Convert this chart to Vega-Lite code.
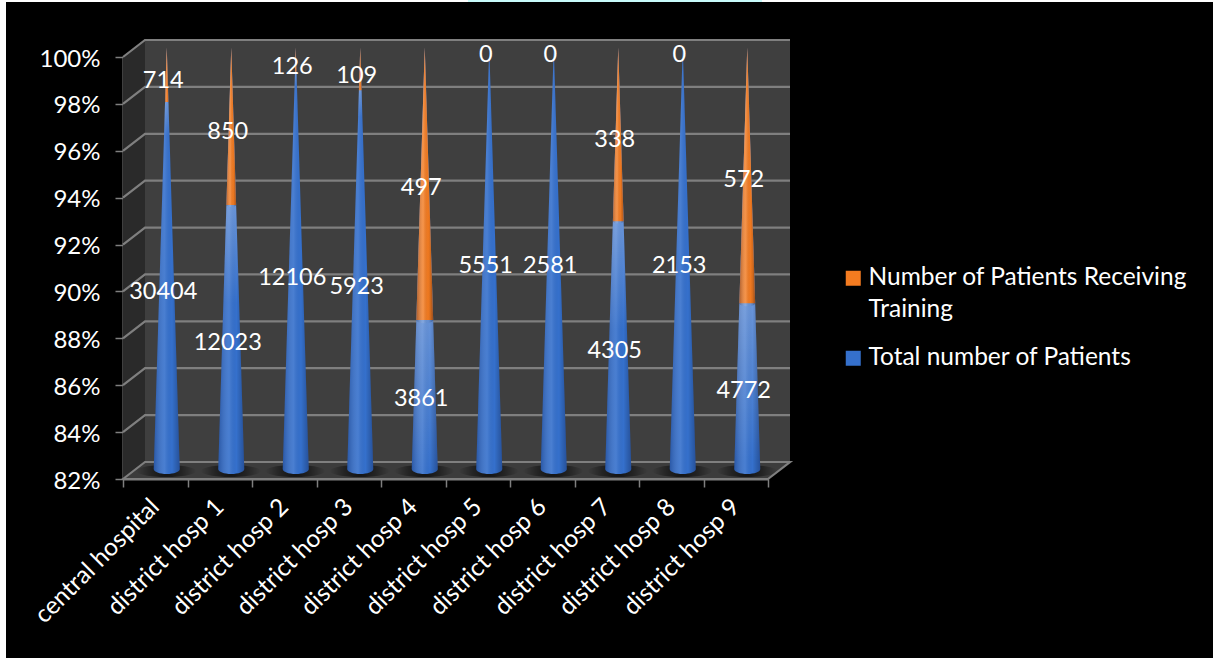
{
  "$schema": "https://vega.github.io/schema/vega-lite/v6.json",
  "width": 1207,
  "height": 656,
  "autosize": "none",
  "padding": {"left": 6, "top": 2, "right": 0, "bottom": 0},
  "background": "#ffffff",
  "view": {"fill": "#000000", "stroke": null},
  "config": {"font": "Lato", "text": {"font": "Lato"}, "style": {"guide-label": {"lineHeight": 32}}},
  "data": {"values": [
    {"hospital": "central hospital", "series": "Total number of Patients", "patients": 30404},
    {"hospital": "district hosp 1", "series": "Total number of Patients", "patients": 12023},
    {"hospital": "district hosp 2", "series": "Total number of Patients", "patients": 12106},
    {"hospital": "district hosp 3", "series": "Total number of Patients", "patients": 5923},
    {"hospital": "district hosp 4", "series": "Total number of Patients", "patients": 3861},
    {"hospital": "district hosp 5", "series": "Total number of Patients", "patients": 5551},
    {"hospital": "district hosp 6", "series": "Total number of Patients", "patients": 2581},
    {"hospital": "district hosp 7", "series": "Total number of Patients", "patients": 4305},
    {"hospital": "district hosp 8", "series": "Total number of Patients", "patients": 2153},
    {"hospital": "district hosp 9", "series": "Total number of Patients", "patients": 4772},
    {"hospital": "central hospital", "series": "Number of Patients Receiving Training", "patients": 714},
    {"hospital": "district hosp 1", "series": "Number of Patients Receiving Training", "patients": 850},
    {"hospital": "district hosp 2", "series": "Number of Patients Receiving Training", "patients": 126},
    {"hospital": "district hosp 3", "series": "Number of Patients Receiving Training", "patients": 109},
    {"hospital": "district hosp 4", "series": "Number of Patients Receiving Training", "patients": 497},
    {"hospital": "district hosp 5", "series": "Number of Patients Receiving Training", "patients": 0},
    {"hospital": "district hosp 6", "series": "Number of Patients Receiving Training", "patients": 0},
    {"hospital": "district hosp 7", "series": "Number of Patients Receiving Training", "patients": 338},
    {"hospital": "district hosp 8", "series": "Number of Patients Receiving Training", "patients": 0},
    {"hospital": "district hosp 9", "series": "Number of Patients Receiving Training", "patients": 572}
  ]},
  "transform": [
    {"joinaggregate": [{"op": "sum", "field": "patients", "as": "hospitalTotal"}], "groupby": ["hospital"]},
    {"calculate": "datum.patients / datum.hospitalTotal * 100", "as": "pct"},
    {"calculate": "datum.series === 'Total number of Patients' ? 17.62 : datum.pct", "as": "span"},
    {"calculate": "min(17.62, datum.pct * 1.6)", "as": "glowSpan"},
    {"calculate": "datum.series === 'Total number of Patients' ? (82 + datum.pct) / 2 : 100 - datum.pct / 2", "as": "labelAt"}
  ],
  "encoding": {
    "x": {
      "field": "hospital",
      "type": "nominal",
      "sort": null,
      "scale": {
        "domain": ["central hospital", "district hosp 1", "district hosp 2", "district hosp 3", "district hosp 4", "district hosp 5", "district hosp 6", "district hosp 7", "district hosp 8", "district hosp 9"],
        "range": [117, 762],
        "paddingInner": 0,
        "paddingOuter": 0
      },
      "axis": {
        "title": null,
        "offset": -179,
        "labelAngle": -45,
        "labelAlign": "right",
        "labelBaseline": "middle",
        "labelPadding": 16,
        "labelFontSize": 24.5,
        "labelColor": "#ffffff",
        "labelLimit": 300,
        "labelFont": "Lato",
        "tickBand": "extent",
        "tickSize": 8,
        "tickWidth": 1.5,
        "tickColor": "#7f7f7f",
        "domainColor": "#7f7f7f",
        "domainWidth": 2,
        "grid": false
      }
    },
    "y": {
      "type": "quantitative",
      "scale": {"domain": [82, 100], "range": [477, 55], "nice": false, "zero": false},
      "axis": {
        "title": null,
        "offset": -117,
        "values": [82, 84, 86, 88, 90, 92, 94, 96, 98, 100],
        "labelExpr": "datum.value + '%'",
        "labelFontSize": 24,
        "labelColor": "#ffffff",
        "labelFont": "Lato",
        "labelPadding": 15,
        "labelOffset": 2,
        "tickSize": 8,
        "tickWidth": 1.5,
        "tickColor": "#7f7f7f",
        "domainColor": "#7f7f7f",
        "domainWidth": 2,
        "grid": false
      }
    }
  },
  "layer": [
    {
      "data": {"values": [{}]},
      "transform": [],
      "mark": {"type": "point", "filled": true, "opacity": 1, "size": 4, "fill": "#3f3f3f", "stroke": null, "shape": "M-10.25,-17L634.75,-17L634.75,-440L-10.25,-440Z"},
      "encoding": {"x": {"datum": "central hospital"}, "y": {"datum": 82}}
    },
    {
      "data": {"values": [{}]},
      "transform": [],
      "mark": {"type": "point", "filled": true, "opacity": 1, "size": 4, "fill": "#2a2a2a", "stroke": null, "shape": "M-32.25,0L-10.25,-17L-10.25,-440L-32.25,-422Z"},
      "encoding": {"x": {"datum": "central hospital"}, "y": {"datum": 82}}
    },
    {
      "data": {"values": [{}]},
      "transform": [],
      "mark": {"type": "point", "filled": true, "opacity": 1, "size": 4, "fill": "#3c3c3c", "stroke": "#7f7f7f", "strokeWidth": 2.2, "shape": "M-32.25,0L-10.25,-17L634.75,-17L612.75,0Z"},
      "encoding": {"x": {"datum": "central hospital"}, "y": {"datum": 82}}
    },
    {
      "data": {"values": [{}]},
      "transform": [],
      "mark": {"type": "point", "filled": true, "opacity": 1, "size": 4, "fill": "#c8fbfb", "stroke": null, "shape": "M312.75,-479L606.75,-479L606.75,-477L312.75,-477Z"},
      "encoding": {"x": {"datum": "central hospital"}, "y": {"datum": 82}}
    },
    {
      "data": {"values": [{"tick": 84}, {"tick": 86}, {"tick": 88}, {"tick": 90}, {"tick": 92}, {"tick": 94}, {"tick": 96}, {"tick": 98}, {"tick": 100}]},
      "transform": [],
      "mark": {"type": "point", "filled": false, "opacity": 1, "size": 4, "stroke": "#7f7f7f", "strokeWidth": 2.2, "shape": "M-32.25,0L-10.25,-17L634.75,-17"},
      "encoding": {"x": {"datum": "central hospital"}, "y": {"field": "tick", "type": "quantitative"}}
    },
    {
      "transform": [{"filter": "datum.series === 'Total number of Patients'"}],
      "mark": {
        "type": "point", "filled": true, "opacity": 1, "size": 4, "xOffset": 11, "yOffset": -8, "stroke": null,
        "shape": "M-30,0A30,6 0 1 0 30,0A30,6 0 1 0 -30,0Z",
        "fill": {"gradient": "radial", "stops": [{"offset": 0, "color": "rgba(0,0,0,0.7)"}, {"offset": 0.5, "color": "rgba(0,0,0,0.42)"}, {"offset": 1, "color": "rgba(0,0,0,0)"}]}
      },
      "encoding": {"y": {"datum": 82}}
    },
    {
      "transform": [{"filter": "datum.series === 'Total number of Patients'"}],
      "mark": {"type": "point", "filled": true, "opacity": 1, "xOffset": 11.5, "yOffset": -10, "stroke": null, "shape": "M0,0L0.0616,2A0.0616,0.0237 0 0 1 -0.0616,2Z"},
      "encoding": {
        "y": {"datum": 100},
        "size": {"field": "span", "type": "quantitative", "legend": null, "scale": {"type": "pow", "exponent": 2, "domain": [0, 18], "range": [0, 185761]}},
        "color": {
          "field": "series",
          "type": "nominal",
          "scale": {"domain": ["Number of Patients Receiving Training", "Total number of Patients"], "range": ["#f47b20", "#3570cc"]},
          "legend": {
            "title": null,
            "orient": "none",
            "legendX": 835,
            "legendY": 264,
            "symbolType": "square",
            "symbolSize": 225,
            "symbolOpacity": 1,
            "labelFontSize": 24.5,
            "labelColor": "#ffffff",
            "labelFont": "Lato",
            "labelLimit": 400,
            "labelOffset": 3,
            "rowPadding": 23,
            "labelExpr": "datum.label === 'Number of Patients Receiving Training' ? ['Number of Patients Receiving', 'Training'] : datum.label"
          }
        }
      }
    },
    {
      "transform": [{"filter": "datum.series !== 'Total number of Patients' && datum.patients > 0"}],
      "mark": {
        "type": "point", "filled": true, "opacity": 1, "xOffset": 11.5, "yOffset": -10, "stroke": null, "shape": "M0,0L0.0616,2A0.0616,0.0237 0 0 1 -0.0616,2Z",
        "fill": {"gradient": "linear", "x1": 0, "x2": 0, "y1": 0, "y2": 1, "stops": [{"offset": 0, "color": "rgba(255,255,255,0.26)"}, {"offset": 0.62, "color": "rgba(255,255,255,0.26)"}, {"offset": 1, "color": "rgba(255,255,255,0)"}]}
      },
      "encoding": {
        "y": {"datum": 100},
        "size": {"field": "glowSpan", "type": "quantitative", "legend": null}
      }
    },
    {
      "transform": [{"filter": "datum.series !== 'Total number of Patients' && datum.patients > 0"}],
      "mark": {"type": "point", "filled": true, "opacity": 1, "xOffset": 11.5, "yOffset": -10, "stroke": null, "shape": "M0,0L0.0616,2L-0.0616,2Z"},
      "encoding": {
        "y": {"datum": 100},
        "size": {"field": "span", "type": "quantitative", "legend": null},
        "color": {"field": "series", "type": "nominal"}
      }
    },
    {
      "transform": [{"filter": "datum.patients > 0"}],
      "mark": {
        "type": "point", "filled": true, "opacity": 1, "xOffset": 11.5, "yOffset": -10, "stroke": null, "shape": "M0,0L0.0616,2A0.0616,0.0237 0 0 1 -0.0616,2Z",
        "fill": {"gradient": "linear", "x1": 0, "x2": 1, "y1": 0, "y2": 0, "stops": [{"offset": 0, "color": "rgba(0,0,30,0.22)"}, {"offset": 0.42, "color": "rgba(255,255,255,0.1)"}, {"offset": 0.7, "color": "rgba(0,0,0,0)"}, {"offset": 1, "color": "rgba(0,0,30,0.28)"}]}
      },
      "encoding": {
        "y": {"datum": 100},
        "size": {"field": "span", "type": "quantitative", "legend": null}
      }
    },
    {
      "mark": {"type": "text", "font": "Lato", "fontSize": 23.5, "color": "#ffffff", "xOffset": 8, "yOffset": -2.5, "baseline": "middle", "align": "center"},
      "encoding": {
        "y": {"field": "labelAt", "type": "quantitative"},
        "text": {"field": "patients", "type": "nominal"}
      }
    }
  ]
}
